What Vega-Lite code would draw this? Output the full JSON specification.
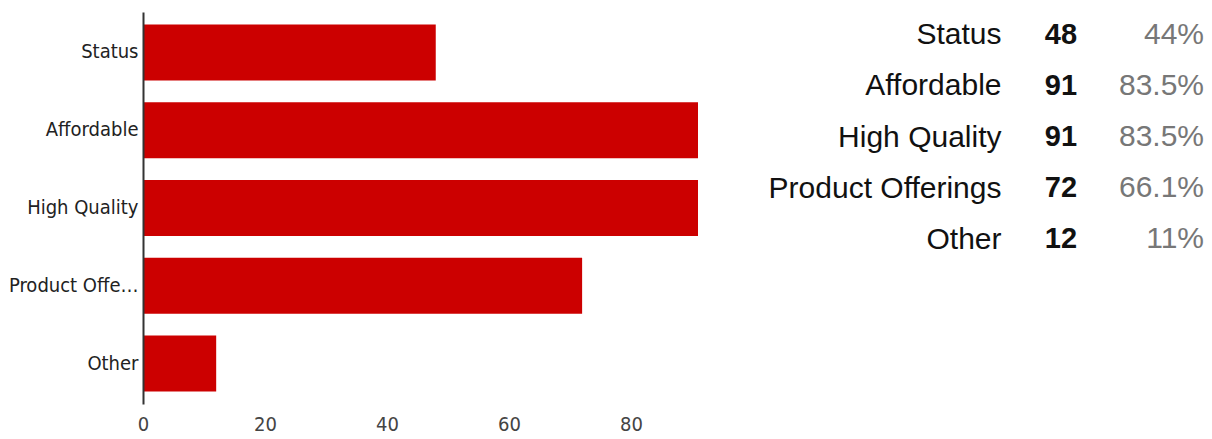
{
  "$schema": "https://vega.github.io/schema/vega-lite/v6.json",
  "padding": {"left": 0, "top": 12, "right": 0, "bottom": 0},
  "background": "white",
  "config": {"view": {"stroke": null}, "concat": {"spacing": 70}},
  "data": {"values": [
    {"answer": "Status", "count": 48, "pct": "44%"},
    {"answer": "Affordable", "count": 91, "pct": "83.5%"},
    {"answer": "High Quality", "count": 91, "pct": "83.5%"},
    {"answer": "Product Offerings", "count": 72, "pct": "66.1%"},
    {"answer": "Other", "count": 12, "pct": "11%"}
  ]},
  "hconcat": [
    {
      "width": 555,
      "height": 392,
      "mark": {"type": "bar", "color": "#cc0000"},
      "encoding": {
        "y": {
          "field": "answer", "type": "nominal", "sort": null,
          "scale": {"paddingInner": 0.28, "paddingOuter": 0.16},
          "axis": {"title": null, "ticks": false, "domainColor": "#333333", "domainWidth": 2, "zindex": 1,
                   "labelFont": "DejaVu Sans Condensed", "labelFontSize": 20,
                   "labelColor": "#222222", "labelPadding": 5, "labelLimit": 134,
                   "minExtent": 143, "maxExtent": 143}
        },
        "x": {
          "field": "count", "type": "quantitative",
          "scale": {"domain": [0, 91], "nice": false},
          "axis": {"title": null, "grid": false, "domain": false, "ticks": false, "values": [0, 20, 40, 60, 80],
                   "labelFlush": false,
                   "labelFont": "DejaVu Sans Condensed", "labelFontSize": 20,
                   "labelColor": "#444444", "labelPadding": 10}
        }
      }
    },
    {
      "width": 210,
      "height": 256,
      "encoding": {
        "y": {
          "field": "answer", "type": "nominal", "sort": null,
          "scale": {"range": [-3, 253], "paddingInner": 0, "paddingOuter": 0},
          "axis": {"title": null, "ticks": false, "domain": false, "labelPadding": 0, "labelLimit": 400,
                   "labelFont": "Liberation Sans", "labelFontSize": 30, "labelColor": "#111111"}
        }
      },
      "layer": [
        {
          "mark": {"type": "text", "font": "Liberation Sans", "fontSize": 29, "fontWeight": "bold", "color": "#111111", "align": "center", "baseline": "middle"},
          "encoding": {
            "x": {"datum": "count", "type": "nominal",
                  "scale": {"type": "point", "domain": ["count", "pct"], "padding": 0.234, "align": 0.896},
                  "axis": null},
            "text": {"field": "count"}
          }
        },
        {
          "mark": {"type": "text", "font": "Liberation Sans", "fontSize": 30, "color": "#777777", "align": "right", "baseline": "middle"},
          "encoding": {
            "x": {"datum": "pct", "type": "nominal"},
            "text": {"field": "pct"}
          }
        }
      ]
    }
  ]
}
